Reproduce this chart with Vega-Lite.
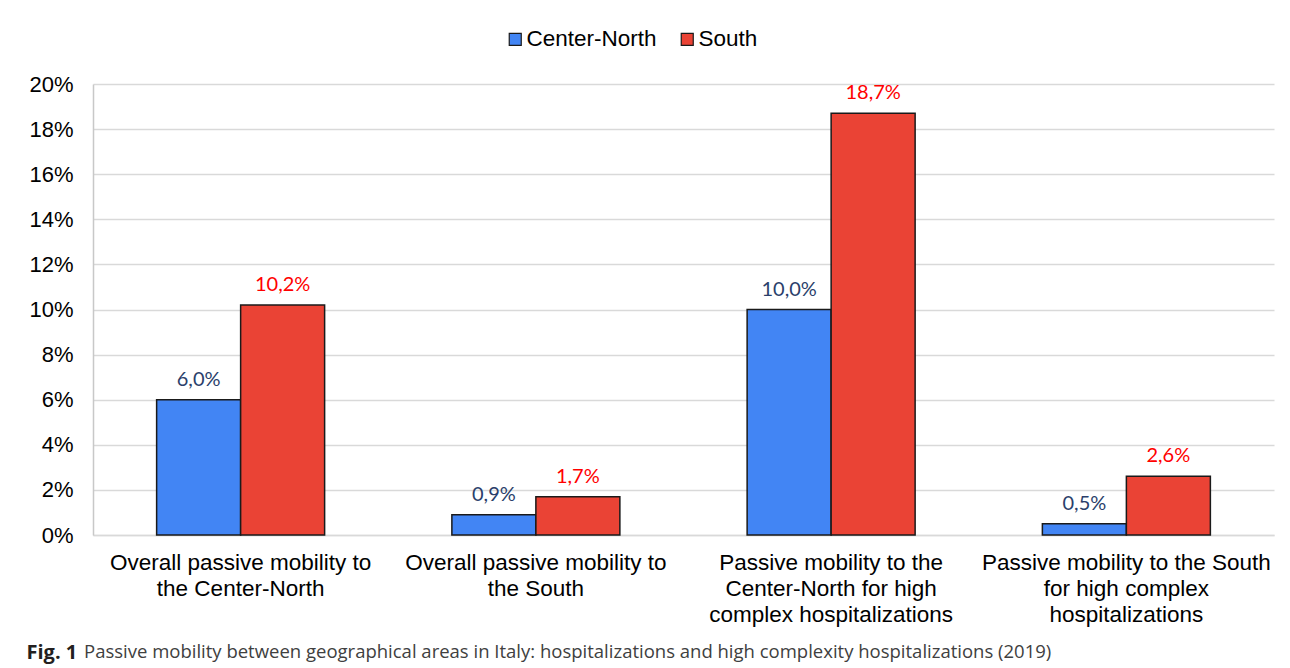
{
  "$schema": "https://vega.github.io/schema/vega-lite/v6.json",
  "width": 1181,
  "height": 451,
  "autosize": {"type": "none"},
  "padding": {"left": 93, "top": 84, "right": 16, "bottom": 133},
  "background": "white",
  "config": {
    "view": {"stroke": null},
    "locale": {"number": {"decimal": ",", "thousands": ".", "grouping": [3], "currency": ["", " €"]}}
  },
  "title": {
    "text": "Passive mobility between geographical areas in Italy: hospitalizations and high complexity hospitalizations (2019)",
    "orient": "bottom",
    "anchor": "start",
    "frame": "group",
    "dx": -9,
    "offset": -4,
    "font": "Open Sans",
    "fontSize": 18.5,
    "fontWeight": "normal",
    "color": "#404040",
    "baseline": "alphabetic"
  },
  "data": {
    "values": [
      {"category": "Overall passive mobility to|the Center-North", "area": "Center-North", "share": 0.060},
      {"category": "Overall passive mobility to|the Center-North", "area": "South", "share": 0.102},
      {"category": "Overall passive mobility to|the South", "area": "Center-North", "share": 0.009},
      {"category": "Overall passive mobility to|the South", "area": "South", "share": 0.017},
      {"category": "Passive mobility to the|Center-North for high|complex hospitalizations", "area": "Center-North", "share": 0.100},
      {"category": "Passive mobility to the|Center-North for high|complex hospitalizations", "area": "South", "share": 0.187},
      {"category": "Passive mobility to the South|for high complex|hospitalizations", "area": "Center-North", "share": 0.005},
      {"category": "Passive mobility to the South|for high complex|hospitalizations", "area": "South", "share": 0.026}
    ]
  },
  "encoding": {
    "x": {
      "field": "category",
      "type": "nominal",
      "sort": null,
      "scale": {"paddingInner": 0.431, "paddingOuter": 0.2155},
      "axis": {
        "labelExpr": "split(datum.label, '|')",
        "labelAngle": 0,
        "labelFont": "Liberation Sans",
        "labelFontSize": 22.5,
        "labelColor": "#000000",
        "labelLineHeight": 26,
        "labelPadding": 16,
        "labelLimit": 400,
        "ticks": false,
        "domain": true,
        "domainColor": "#d9d9d9",
        "domainWidth": 1.5,
        "title": "Fig. 1",
        "titleFont": "Open Sans",
        "titleFontWeight": "bold",
        "titleFontSize": 20,
        "titleColor": "#231f20",
        "titleX": -67,
        "titleY": 123,
        "titleAlign": "left",
        "titleBaseline": "alphabetic"
      }
    },
    "xOffset": {"field": "area", "type": "nominal", "sort": ["Center-North", "South"], "scale": {"paddingInner": 0, "paddingOuter": 0}},
    "y": {
      "field": "share",
      "type": "quantitative",
      "scale": {"domain": [0, 0.2], "nice": false},
      "axis": {
        "values": [0, 0.02, 0.04, 0.06, 0.08, 0.1, 0.12, 0.14, 0.16, 0.18, 0.2],
        "format": ".0%",
        "labelFont": "Liberation Sans",
        "labelFontSize": 22,
        "labelColor": "#000000",
        "labelPadding": 20,
        "ticks": false,
        "domain": true,
        "domainColor": "#c8c8c8",
        "domainWidth": 1.5,
        "grid": true,
        "gridColor": "#d9d9d9",
        "gridWidth": 1.5,
        "title": null
      }
    }
  },
  "layer": [
    {
      "mark": {"type": "bar", "stroke": "#1a1a1a", "strokeWidth": 1.5},
      "encoding": {
        "color": {
          "field": "area",
          "type": "nominal",
          "sort": ["Center-North", "South"],
          "scale": {"domain": ["Center-North", "South"], "range": ["#4285F4", "#EA4335"]},
          "legend": {
            "orient": "none",
            "legendX": 411,
            "legendY": -56,
            "direction": "horizontal",
            "title": null,
            "symbolType": "square",
            "symbolSize": 144,
            "symbolStrokeColor": "#1a1a1a",
            "symbolStrokeWidth": 1.2,
            "symbolOpacity": 1,
            "labelFont": "Liberation Sans",
            "labelFontSize": 22.5,
            "labelColor": "#000000",
            "labelOffset": 0,
            "columnPadding": 19
          }
        }
      }
    },
    {
      "mark": {"type": "text", "baseline": "alphabetic", "dy": -14, "font": "Lato", "fontSize": 20},
      "encoding": {
        "text": {"field": "share", "type": "quantitative", "format": ".1%"},
        "color": {
          "field": "area",
          "type": "nominal",
          "scale": {"domain": ["Center-North", "South"], "range": ["#2B3F6B", "#FF0000"]},
          "legend": null
        }
      }
    }
  ],
  "resolve": {"scale": {"color": "independent"}}
}
